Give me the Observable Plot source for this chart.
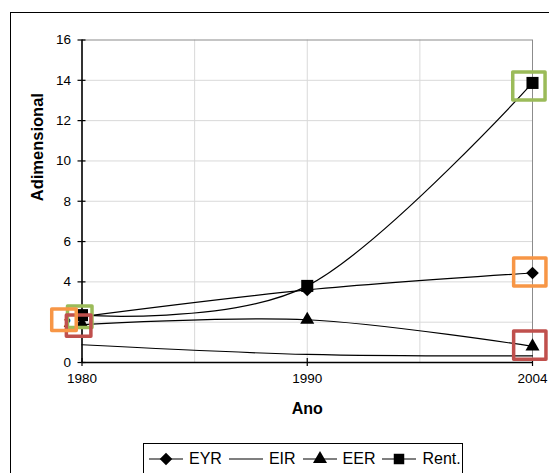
<!DOCTYPE html>
<html>
<head>
<meta charset="utf-8">
<script src="https://cdn.jsdelivr.net/npm/d3@7"></script>
<script src="https://cdn.jsdelivr.net/npm/@observablehq/plot@0.6"></script>
<style>
  html, body { margin: 0; padding: 0; background: #fff; }
  #wrap { position: relative; width: 549px; height: 473px; overflow: hidden; background: #fff; font-family: "Liberation Sans", Arial, sans-serif; }
  #frame { position: absolute; left: 10px; top: 12px; width: 600px; height: 600px; border: 1.5px solid #000; box-sizing: border-box; }
  #chart { position: absolute; left: 0; top: 0; }
  #legend { position: absolute; left: 143px; top: 443px; width: 320px; height: 45px; border: 1px solid #000; box-sizing: border-box; display: flex; align-items: flex-start; padding-top: 6px; padding-left: 5px; font-size: 16px; color: #000; background: #fff; white-space: nowrap; }
  #legend .item { display: flex; align-items: center; margin-right: 7px; }
  #legend svg { display: block; margin-right: 6px; }
</style>
</head>
<body>
<div id="wrap">
  <div id="frame"></div>
  <div id="chart"></div>
  <div id="legend"></div>
</div>
<script>
// ---- data ----
const years = ["1980", "1990", "2004"];
const EYR  = [2.28, 3.6, 4.44];
const EIR  = [0.88, 0.4, 0.33];
const EER  = [1.88, 2.12, 0.8];
const Rent = [2.35, 3.8, 13.87];

const yTicks = [0, 2, 4, 6, 8, 10, 12, 14, 16];
const xGrid = [0.5, 1, 1.5];

// highlight boxes (annotations), in data coordinates
const boxX    = [-0.01, -0.015, -0.08, 1.984, 1.988, 1.988];
const boxY    = [2.27, 1.83, 2.12, 13.72, 4.49, 0.86];
const boxKind = ["green", "red", "orange", "green", "orange", "red"];
const boxColors = { green: "#9bbb59", orange: "#f79646", red: "#c0504d" };

const idx = years.map((_, i) => i);
const boxes = boxX.map((x, i) => ({ x, y: boxY[i], kind: boxKind[i], year: x < 1 ? 0 : 2 }));

const rectSymbol = {
  draw(ctx, size) {
    const aspect = 1.15;
    const h = Math.sqrt(size / aspect), w = h * aspect;
    ctx.rect(-w / 2, -h / 2, w, h);
  }
};

const smooth = d3.curveCardinal.tension(0);
const font = "Liberation Sans, Arial, sans-serif";

const chart = Plot.plot({
  width: 549,
  height: 440,
  marginLeft: 81.5,
  marginRight: 17,
  marginTop: 39.5,
  marginBottom: 78,
  style: { fontFamily: font, fontSize: "13.5px", color: "#000", background: "transparent" },
  x: { domain: [0, 2], axis: null },
  y: { domain: [0, 16], axis: null },
  marks: [
    Plot.gridY(yTicks.filter(d => d > 0 && d < 16), { stroke: "#d9d9d9", strokeOpacity: 1 }),
    Plot.gridX(xGrid, { stroke: "#d9d9d9", strokeOpacity: 1 }),
    Plot.frame({ stroke: "#8c8c8c" }),
    Plot.ruleX([0], { stroke: "#000", strokeWidth: 1.5 }),
    Plot.ruleY([0], { stroke: "#000", strokeWidth: 1.5 }),
    // inner halves of cross tick marks
    Plot.ruleX(idx, { y1: 0, y2: 0, insetTop: -4, stroke: "#000", strokeWidth: 1.2 }),
    Plot.ruleY(yTicks, { x1: 0, x2: 0, insetRight: -4, stroke: "#000", strokeWidth: 1.2 }),
    Plot.axisX({ ticks: idx, tickFormat: i => years[i], tickSize: 4, tickPadding: 7, stroke: "#000", strokeWidth: 1.2, fontSize: 13.5, label: null }),
    Plot.axisY({ ticks: yTicks, tickSize: 4, tickPadding: 7, stroke: "#000", strokeWidth: 1.2, fontSize: 13.5, label: null }),
    Plot.text(["Adimensional"], { frameAnchor: "left", dx: -44.5, rotate: -90, fontWeight: "bold", fontSize: 16.5, fill: "#000" }),
    Plot.text(["Ano"], { frameAnchor: "bottom", dy: 51, fontWeight: "bold", fontSize: 16, fill: "#000" }),
    // series lines
    Plot.line(idx, { x: i => i, y: i => EIR[i], curve: smooth, stroke: "#000", strokeWidth: 1.2 }),
    Plot.line(idx, { x: i => i, y: i => EER[i], curve: smooth, stroke: "#000", strokeWidth: 1.2 }),
    Plot.line(idx, { x: i => i, y: i => EYR[i], curve: smooth, stroke: "#000", strokeWidth: 1.2 }),
    Plot.line(idx, { x: i => i, y: i => Rent[i], curve: smooth, stroke: "#000", strokeWidth: 1.2 }),
    // markers
    Plot.dot(idx, { x: i => i, y: i => EER[i], symbol: "triangle", r: 5.2, fill: "#000", stroke: "none" }),
    Plot.dot(idx, { x: i => i, y: i => EYR[i], symbol: "diamond2", r: 5.7, fill: "#000", stroke: "none" }),
    Plot.dot(idx, { x: i => i, y: i => Rent[i], symbol: "square", r: 6.8, fill: "#000", stroke: "none" }),
    // highlight boxes
    Plot.dot(boxes.filter(d => d.year === 0), { x: "x", y: "y", symbol: rectSymbol, r: 12.9, fill: "none", stroke: d => boxColors[d.kind], strokeWidth: 3.5, strokeLinejoin: "round" }),
    Plot.dot(boxes.filter(d => d.year === 2), { x: "x", y: "y", symbol: rectSymbol, r: 17, fill: "none", stroke: d => boxColors[d.kind], strokeWidth: 3.5, strokeLinejoin: "round" })
  ]
});
document.getElementById("chart").appendChild(chart);

// ---- legend ----
const legendItems = [
  { name: "EYR", symbol: d3.symbolDiamond2, size: 100 },
  { name: "EIR", symbol: null },
  { name: "EER", symbol: d3.symbolTriangle, size: 85 },
  { name: "Rent.", symbol: d3.symbolSquare, size: 110 }
];
const legend = document.getElementById("legend");
for (const it of legendItems) {
  const div = document.createElement("div");
  div.className = "item";
  const w = 34, h = 18;
  let svg = `<svg width="${w}" height="${h}" viewBox="0 0 ${w} ${h}"><line x1="0" x2="${w}" y1="${h/2}" y2="${h/2}" stroke="#000" stroke-width="1.2"/>`;
  if (it.symbol) svg += `<path transform="translate(${w/2},${h/2})" d="${d3.symbol(it.symbol, it.size)()}" fill="#000"/>`;
  svg += `</svg>`;
  div.innerHTML = svg + `<span>${it.name}</span>`;
  legend.appendChild(div);
}
</script>
</body>
</html>
